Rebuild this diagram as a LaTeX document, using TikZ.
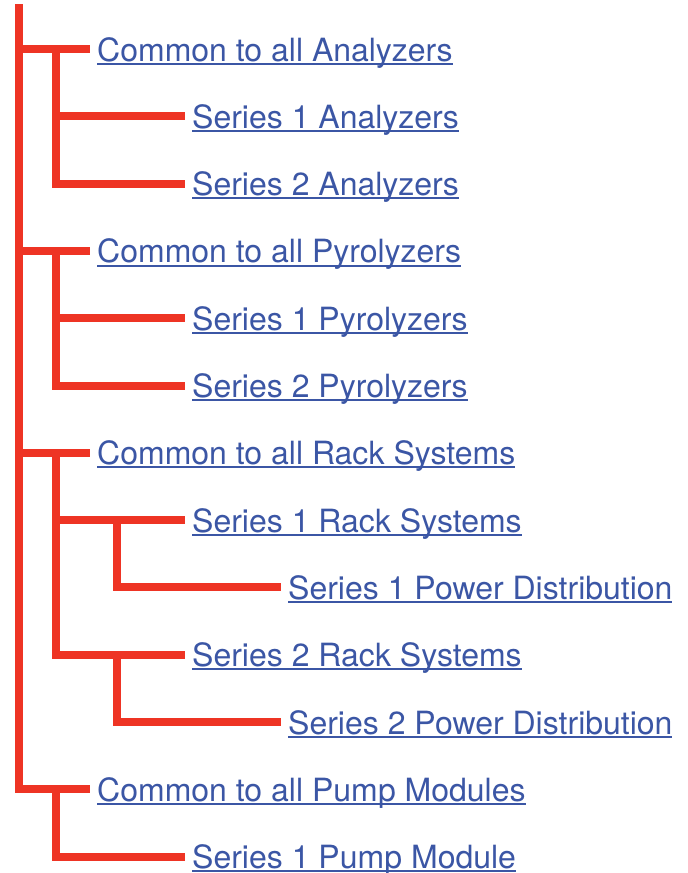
\documentclass[tikz,border=0pt]{standalone}
\usepackage{fontspec}
\setmainfont{TeX Gyre Heros}
\usetikzlibrary{positioning}
\definecolor{treered}{RGB}{238,52,36}
\definecolor{linkblue}{RGB}{59,86,165}
\newcommand{\ulink}[1]{\setbox0\hbox{#1}\rlap{\rule[-3.6pt]{\wd0}{2pt}}\box0}
\tikzset{
  branch/.style = {draw=treered, line width=8pt, line join=miter},
  entry/.style  = {anchor=west, inner xsep=7pt, inner ysep=0pt,
                   text height=26pt, text depth=2pt, text=linkblue,
                   font=\fontsize{32}{36}\selectfont},
}

\begin{document}
\begin{tikzpicture}[x=1pt, y=-1pt]
  \useasboundingbox (0,0) rectangle (688,873);
  \coordinate (top) at (19,4);
  \coordinate (lv1) at (56,0);
  \coordinate (lv2) at (117,0);

  % Analyzers
  \node[entry] (an)  at (90,49)     {\ulink{Common to all Analyzers}};
  \node[entry] (an1) at (185,116.3) {\ulink{Series 1 Analyzers}};
  \node[entry] (an2) at (185,183.6) {\ulink{Series 2 Analyzers}};

  % Pyrolyzers
  \node[entry] (py)  at (90,250.9)  {\ulink{Common to all Pyrolyzers}};
  \node[entry] (py1) at (185,318.2) {\ulink{Series 1 Pyrolyzers}};
  \node[entry] (py2) at (185,385.5) {\ulink{Series 2 Pyrolyzers}};

  % Rack systems
  \node[entry] (rk)  at (90,452.8)  {\ulink{Common to all Rack Systems}};
  \node[entry] (rk1) at (185,520.1) {\ulink{Series 1 Rack Systems}};
  \node[entry] (pd1) at (281,587.4) {\ulink{Series 1 Power Distribution}};
  \node[entry] (rk2) at (185,654.7) {\ulink{Series 2 Rack Systems}};
  \node[entry] (pd2) at (281,722)   {\ulink{Series 2 Power Distribution}};

  % Pump modules
  \node[entry] (pm)  at (90,789.3)  {\ulink{Common to all Pump Modules}};
  \node[entry] (pm1) at (185,856.6) {\ulink{Series 1 Pump Module}};

  % Trunk
  \draw[branch] (top) |- (an.west);
  \draw[branch] (top) |- (py.west);
  \draw[branch] (top) |- (rk.west);
  \draw[branch] (top) |- (pm.west);

  % Second level
  \draw[branch] (an.west -| lv1) |- (an1.west);
  \draw[branch] (an.west -| lv1) |- (an2.west);
  \draw[branch] (py.west -| lv1) |- (py1.west);
  \draw[branch] (py.west -| lv1) |- (py2.west);
  \draw[branch] (rk.west -| lv1) |- (rk1.west);
  \draw[branch] (rk.west -| lv1) |- (rk2.west);
  \draw[branch] (pm.west -| lv1) |- (pm1.west);

  % Third level
  \draw[branch] (rk1.west -| lv2) |- (pd1.west);
  \draw[branch] (rk2.west -| lv2) |- (pd2.west);
\end{tikzpicture}
\end{document}
